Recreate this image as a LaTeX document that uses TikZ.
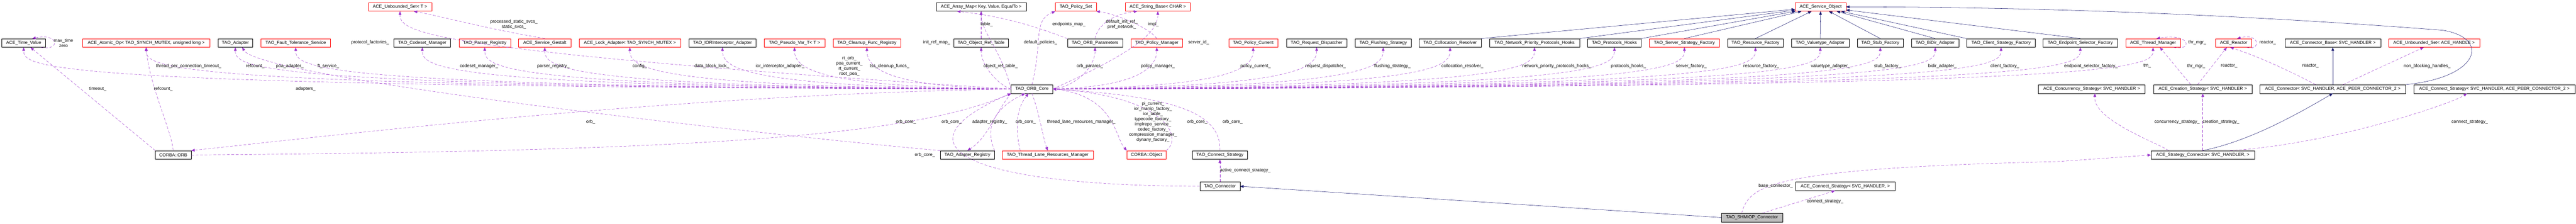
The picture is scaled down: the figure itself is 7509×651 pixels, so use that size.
\documentclass[tikz,border=0pt]{standalone}
\usepackage{fontspec}
\setmainfont{Liberation Sans}
\usetikzlibrary{arrows.meta,calc}
\definecolor{usec}{HTML}{9A32CD}
\definecolor{inhc}{HTML}{191970}
\begin{document}
\begin{tikzpicture}[x=1pt,y=-1pt,
  every node/.style={font=\fontsize{13}{15}\selectfont},
  cls/.style={draw=black,line width=0.8pt,fill=white,minimum height=25pt,inner sep=0pt},
  redcls/.style={cls,draw=red},
  curcls/.style={cls,fill=black!25},
  use/.style={draw=usec,line width=0.7pt,dash pattern=on 8pt off 5pt,-{Triangle[length=10pt,width=8pt]}},
  inh/.style={draw=inhc,line width=0.8pt,-{Triangle[length=10pt,width=8pt]}},
  lab/.style={inner sep=0pt,align=center}]
\useasboundingbox (0,0) rectangle (7509,651);
\fill[white] (0,0) rectangle (7509,651);
% row 1
\node[redcls,minimum width=185] (uset) at (1166,20) {ACE\_Unbounded\_Set< T >};
\node[cls,minimum width=263] (amap) at (2860,20) {ACE\_Array\_Map< Key, Value, EqualTo >};
\node[redcls,minimum width=119] (pset) at (3136,20) {TAO\_Policy\_Set};
\node[redcls,minimum width=190] (sbase) at (3375,20) {ACE\_String\_Base< CHAR >};
\node[redcls,minimum width=148] (sobj) at (5307,20) {ACE\_Service\_Object};
% row 2
\node[cls,minimum width=128] (tv) at (69,125) {ACE\_Time\_Value};
\node[redcls,minimum width=370] (atomic) at (426,125) {ACE\_Atomic\_Op< TAO\_SYNCH\_MUTEX, unsigned long >};
\node[cls,minimum width=101] (adapter) at (686,125) {TAO\_Adapter};
\node[redcls,minimum width=202] (ft) at (862,125) {TAO\_Fault\_Tolerance\_Service};
\node[cls,minimum width=165] (codeset) at (1231,125) {TAO\_Codeset\_Manager};
\node[redcls,minimum width=150] (parser) at (1413,125) {TAO\_Parser\_Registry};
\node[redcls,minimum width=153] (gestalt) at (1588,125) {ACE\_Service\_Gestalt};
\node[redcls,minimum width=296] (lock) at (1836,125) {ACE\_Lock\_Adapter< TAO\_SYNCH\_MUTEX >};
\node[cls,minimum width=196] (ior) at (2106,125) {TAO\_IORInterceptor\_Adapter};
\node[redcls,minimum width=177] (pseudo) at (2316,125) {TAO\_Pseudo\_Var\_T< T >};
\node[redcls,minimum width=197] (cleanup) at (2527,125) {TAO\_Cleanup\_Func\_Registry};
\node[cls,minimum width=160] (ort) at (2860,125) {TAO\_Object\_Ref\_Table};
\node[cls,minimum width=161] (params) at (3192,125) {TAO\_ORB\_Parameters};
\node[redcls,minimum width=151] (pman) at (3372,125) {TAO\_Policy\_Manager};
\node[redcls,minimum width=143] (pcur) at (3653,125) {TAO\_Policy\_Current};
\node[cls,minimum width=175] (rdisp) at (3838,125) {TAO\_Request\_Dispatcher};
\node[cls,minimum width=163] (flush) at (4032,125) {TAO\_Flushing\_Strategy};
\node[cls,minimum width=181] (coll) at (4227,125) {TAO\_Collocation\_Resolver};
\node[cls,minimum width=263] (npph) at (4473,125) {TAO\_Network\_Priority\_Protocols\_Hooks};
\node[cls,minimum width=156] (phooks) at (4706,125) {TAO\_Protocols\_Hooks};
\node[redcls,minimum width=205] (ssf) at (4910,125) {TAO\_Server\_Strategy\_Factory};
\node[cls,minimum width=163] (rf) at (5117,125) {TAO\_Resource\_Factory};
\node[cls,minimum width=168] (vta) at (5306,125) {TAO\_Valuetype\_Adapter};
\node[cls,minimum width=134] (stub) at (5481,125) {TAO\_Stub\_Factory};
\node[cls,minimum width=138] (bidir) at (5641,125) {TAO\_BiDir\_Adapter};
\node[cls,minimum width=200] (csf) at (5833,125) {TAO\_Client\_Strategy\_Factory};
\node[cls,minimum width=217] (esf) at (6064,125) {TAO\_Endpoint\_Selector\_Factory};
\node[redcls,minimum width=159] (thr) at (6276,125) {ACE\_Thread\_Manager};
\node[redcls,minimum width=105] (reactor) at (6511,125) {ACE\_Reactor};
\node[cls,minimum width=279] (cbase) at (6800,125) {ACE\_Connector\_Base< SVC\_HANDLER >};
\node[redcls,minimum width=266] (hset) at (7095,125) {ACE\_Unbounded\_Set< ACE\_HANDLE >};
% row 3
\node[cls,minimum width=121] (core) at (3008,259) {TAO\_ORB\_Core};
\node[cls,minimum width=311] (conc) at (6097,259) {ACE\_Concurrency\_Strategy< SVC\_HANDLER >};
\node[cls,minimum width=287] (creat) at (6421,259) {ACE\_Creation\_Strategy< SVC\_HANDLER >};
\node[cls,minimum width=425] (acon) at (6800,259) {ACE\_Connector< SVC\_HANDLER, ACE\_PEER\_CONNECTOR\_2 >};
\node[cls,minimum width=471] (acs2) at (7271,259) {ACE\_Connect\_Strategy< SVC\_HANDLER, ACE\_PEER\_CONNECTOR\_2 >};
% row 4
\node[cls,minimum width=104] (orb) at (505,451) {CORBA::ORB};
\node[cls,minimum width=158] (areg) at (2820,451) {TAO\_Adapter\_Registry};
\node[redcls,minimum width=265] (tlrm) at (3054,451) {TAO\_Thread\_Lane\_Resources\_Manager};
\node[redcls,minimum width=114] (cobj) at (3342,451) {CORBA::Object};
\node[cls,minimum width=161] (tcs) at (3556,451) {TAO\_Connect\_Strategy};
\node[cls,minimum width=301] (scon) at (6421,451) {ACE\_Strategy\_Connector< SVC\_HANDLER, >};
% row 5, 6
\node[cls,minimum width=117] (tcon) at (3556,542) {TAO\_Connector};
\node[cls,minimum width=291] (acs) at (5379,542) {ACE\_Connect\_Strategy< SVC\_HANDLER, >};
\node[curcls,minimum width=178] (shm) at (5107,633) {TAO\_SHMIOP\_Connector};

% inheritance
\foreach \s/\a in {coll/north east,npph/north east,phooks/north east,ssf/north,rf/north,vta/north,stub/north,bidir/north,csf/north west,esf/north}
  \draw[inh] (\s.\a) -- (sobj);
\draw[inh] (acon.north east) .. controls (7230,225) and (7260,110) .. (7120,88) .. controls (6500,40) and (5900,20) .. (sobj.east);
\draw[inh] (acon.north) -- (cbase.south);
\draw[inh] (scon.north) .. controls (6560,410) and (6700,330) .. (acon.south);
\draw[inh] (shm.west) -- (tcon.east);

% ORB_Core uses (left)
\foreach \t in {tv,atomic,adapter,ft,uset,codeset,parser,gestalt,lock,ior,pseudo,cleanup,amap,ort}
  \draw[use] (core.west) .. controls ($(\t.south)+(60,115)$) and ($(\t.south)+(0,60)$) .. (\t.south);
\foreach \t in {pset}
  \draw[use] (core.north) .. controls (3040,120) and (3010,60) .. (pset.south west);
\foreach \t in {params,pman,sbase,pcur,rdisp,flush,coll,npph,phooks,ssf,rf,vta,stub,bidir,csf,esf,thr}
  \draw[use] (core.east) .. controls ($(\t.south)+(-60,115)$) and ($(\t.south)+(0,60)$) .. (\t.south);
\draw[use] (core.west) .. controls (2000,275) and (1100,380) .. (orb.north east);
\draw[use] (core.south west) .. controls (2900,330) and (2880,400) .. (areg.north);
\draw[use] (core.south) .. controls (3030,330) and (3040,400) .. (tlrm.north);
\draw[use] (core.east) .. controls (3250,275) and (3250,400) .. (cobj.north west);
% others
\draw[use] ([xshift=-15]tv.south east) .. controls (175,150) and (175,95) .. ([xshift=25]tv.north);
\draw[use] (orb.north west) -- ([xshift=20]tv.south);
\draw[use] (orb.north) .. controls (500,380) and (436,250) .. (atomic.south);
\draw[use] (areg.north west) .. controls (2300,400) and (760,230) .. ([xshift=20]adapter.south);
\draw[use] (gestalt.north) .. controls (1400,80) and (1300,50) .. ([xshift=40]uset.south);
\draw[use] (ort.north) -- (ort.north |- amap.south);
\draw[use] (params.north west) .. controls (3050,90) and (2950,50) .. ([xshift=-70]amap.south);
\draw[use] (params.north) .. controls (3200,70) and (3250,40) .. ([xshift=-60]sbase.south);
\draw[use] (pman.north) .. controls (3350,80) and (3250,40) .. (pset.south east);
\draw[use] (orb.east) .. controls (2000,440) and (2650,400) .. (core.south west);
\draw[use] (areg.north east) .. controls (2860,350) and (2930,300) .. ([xshift=-20]core.south);
\draw[use] ([xshift=-80]tlrm.north) .. controls (2960,380) and (2960,320) .. ([xshift=-10]core.south);
\draw[use] (cobj.north east) .. controls (3450,400) and (3400,280) .. (core.east);
\draw[use] (tcs.north) .. controls (3560,320) and (3400,280) .. (core.east);
\draw[use] (tcon.west) .. controls (2800,540) and (2600,420) .. (core.south west);
\draw[use] (tcon.north) -- (tcs.south);
\draw[use] ([xshift=-20]thr.south east) .. controls (6390,150) and (6390,95) .. ([xshift=10]thr.north);
\draw[use] ([xshift=-15]reactor.south east) .. controls (6590,150) and (6590,95) .. ([xshift=10]reactor.north);
\draw[use] ([xshift=-35]creat.north) -- ([xshift=20]thr.south);
\draw[use] ([xshift=-15]creat.north) -- ([xshift=-20]reactor.south);
\draw[use] ([xshift=-50]acon.north) .. controls (6700,220) and (6600,170) .. ([xshift=-10]reactor.south);
\draw[use] ([xshift=30]acon.north) -- ([xshift=-30]hset.south);
\draw[use] ([xshift=-100]scon.north) .. controls (6300,420) and (6100,350) .. ([xshift=10]conc.south);
\draw[use] (scon.north) -- (creat.south);
\draw[use] ([xshift=80]scon.north) .. controls (6800,420) and (7150,300) .. ([xshift=-80]acs2.south);
\draw[use] ([xshift=-30]shm.north) .. controls (5100,540) and (5150,490) .. (6000,470) -- (scon.west);
\draw[use] ([xshift=30]shm.north) -- ([xshift=-30]acs.south);

% labels
\node[lab] (l1) at (185,125) {max\_time\\zero};
\node[lab] (l2) at (550,192) {thread\_per\_connection\_timeout\_};
\node[lab] (l3) at (744,192) {refcount\_};
\node[lab] (l4) at (845,192) {poa\_adapter\_};
\node[lab] (l5) at (957,192) {ft\_service\_};
\node[lab] (l6) at (285,258) {timeout\_};
\node[lab] (l7) at (476,258) {refcount\_};
\node[lab] (l8) at (891,258) {adapters\_};
\node[lab] (l9) at (1498,71) {processed\_static\_svcs\_\\static\_svcs\_};
\node[lab] (l10) at (1079,124) {protocol\_factories\_};
\node[lab] (l11) at (1396,192) {codeset\_manager\_};
\node[lab] (l12) at (1613,192) {parser\_registry\_};
\node[lab] (l13) at (1865,192) {config\_};
\node[lab] (l14) at (1722,355) {orb\_};
\node[lab] (l15) at (2075,192) {data\_block\_lock\_};
\node[lab] (l16) at (2274,192) {ior\_interceptor\_adapter\_};
\node[lab] (l17) at (2476,193) {rt\_orb\_\\poa\_current\_\\rt\_current\_\\root\_poa\_};
\node[lab] (l18) at (2593,192) {tss\_cleanup\_funcs\_};
\node[lab] (l19) at (2730,124) {init\_ref\_map\_};
\node[lab] (l20) at (2641,355) {orb\_core\_};
\node[lab] (l21) at (2774,355) {orb\_core\_};
\node[lab] (l22) at (2696,451) {orb\_core\_};
\node[lab] (l23) at (2876,71) {table\_};
\node[lab] (l24) at (3116,71) {endpoints\_map\_};
\node[lab] (l25) at (3270,71) {default\_init\_ref\_\\pref\_network\_};
\node[lab] (l26) at (3362,71) {impl\_};
\node[lab] (l27) at (3033,124) {default\_policies\_};
\node[lab] (l28) at (3494,124) {server\_id\_};
\node[lab] (l29) at (2917,192) {object\_ref\_table\_};
\node[lab] (l30) at (3177,192) {orb\_params\_};
\node[lab] (l31) at (3375,192) {policy\_manager\_};
\node[lab] (l32) at (3660,192) {policy\_current\_};
\node[lab] (l33) at (2885,355) {adapter\_registry\_};
\node[lab] (l34) at (2990,355) {orb\_core\_};
\node[lab] (l35) at (3152,355) {thread\_lane\_resources\_manager\_};
\node[lab] (l36) at (3361,355) {pi\_current\_\\ior\_manip\_factory\_\\ior\_table\_\\typecode\_factory\_\\implrepo\_service\_\\codec\_factory\_\\compression\_manager\_\\dynany\_factory\_};
\node[lab] (l37) at (3490,355) {orb\_core\_};
\node[lab] (l38) at (3593,355) {orb\_core\_};
\node[lab] (l39) at (3630,496) {active\_connect\_strategy\_};
\node[lab] (l40) at (3864,192) {request\_dispatcher\_};
\node[lab] (l41) at (4059,192) {flushing\_strategy\_};
\node[lab] (l42) at (4263,192) {collocation\_resolver\_};
\node[lab] (l43) at (4538,192) {network\_priority\_protocols\_hooks\_};
\node[lab] (l44) at (4747,192) {protocols\_hooks\_};
\node[lab] (l45) at (4930,192) {server\_factory\_};
\node[lab] (l46) at (5134,192) {resource\_factory\_};
\node[lab] (l47) at (5336,192) {valuetype\_adapter\_};
\node[lab] (l48) at (5502,192) {stub\_factory\_};
\node[lab] (l49) at (5662,192) {bidir\_adapter\_};
\node[lab] (l50) at (5176,541) {base\_connector\_};
\node[lab] (l51) at (5320,586) {connect\_strategy\_};
\node[lab] (l52) at (5844,192) {client\_factory\_};
\node[lab] (l53) at (6095,192) {endpoint\_selector\_factory\_};
\node[lab] (l54) at (6405,124) {thr\_mgr\_};
\node[lab] (l55) at (6259,192) {tm\_};
\node[lab] (l56) at (6402,192) {thr\_mgr\_};
\node[lab] (l57) at (6498,192) {reactor\_};
\node[lab] (l58) at (6346,355) {concurrency\_strategy\_};
\node[lab] (l59) at (6474,355) {creation\_strategy\_};
\node[lab] (l60) at (6610,124) {reactor\_};
\node[lab] (l61) at (6735,192) {reactor\_};
\node[lab] (l62) at (7075,192) {non\_blocking\_handles\_};
\node[lab] (l63) at (7199,355) {connect\_strategy\_};
\end{tikzpicture}
\end{document}
